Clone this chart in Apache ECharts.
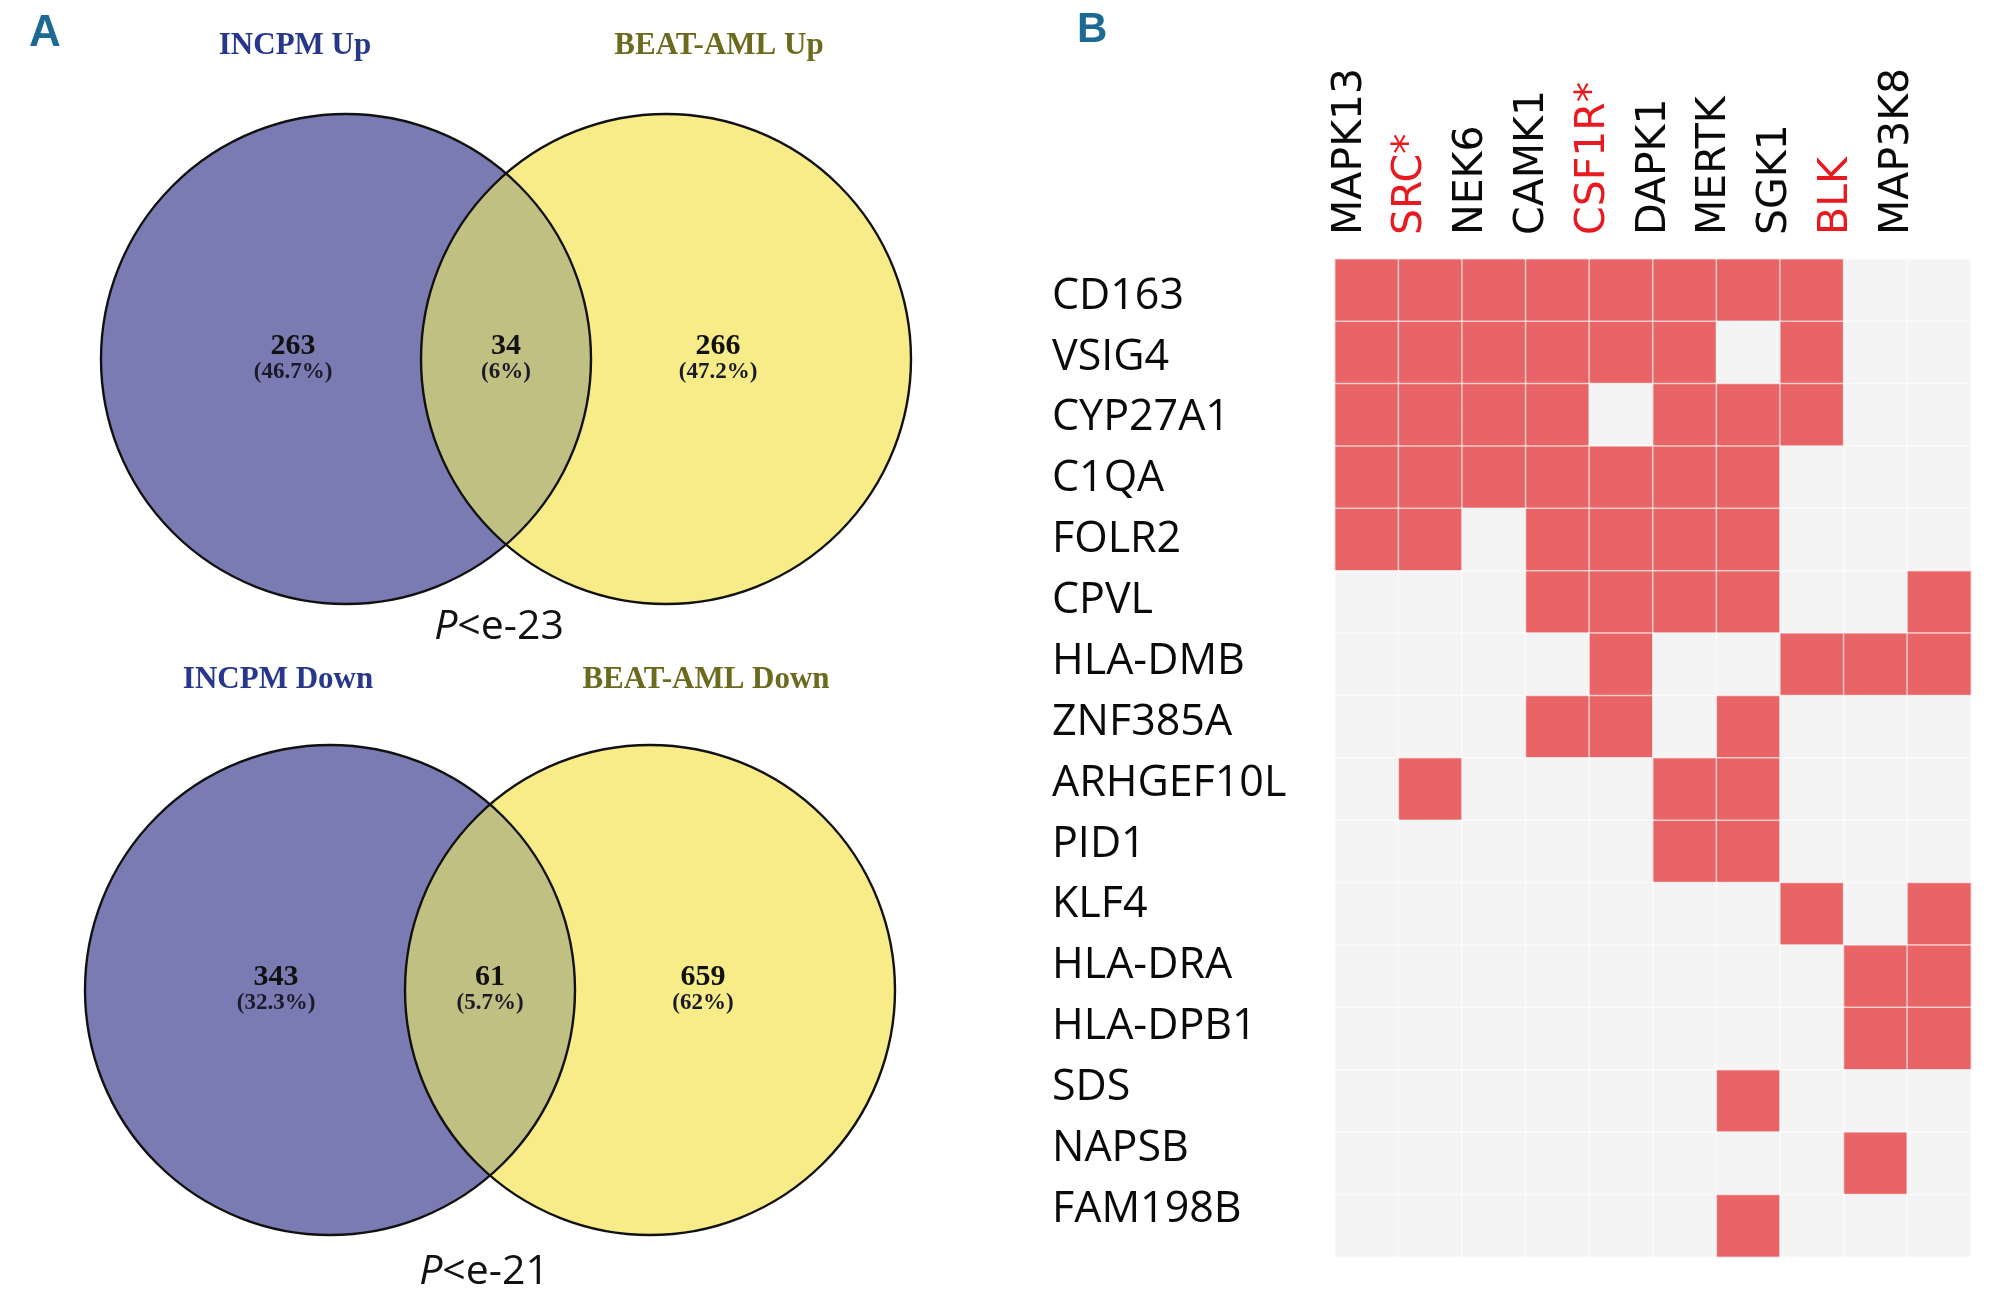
<!DOCTYPE html>
<html><head><meta charset="utf-8">
<script src="https://cdn.jsdelivr.net/npm/echarts@6/dist/echarts.min.js"></script>
<style>html,body{margin:0;padding:0;background:#fff}#c{width:2000px;height:1301px}</style>
</head><body><div id="c"></div>
<script>
// ---------- data ----------
const kinases = ['MAPK13','SRC*','NEK6','CAMK1','CSF1R*','DAPK1','MERTK','SGK1','BLK','MAP3K8'];
const highlightedKinases = ['SRC*','CSF1R*','BLK'];
const genes = ['CD163','VSIG4','CYP27A1','C1QA','FOLR2','CPVL','HLA-DMB','ZNF385A','ARHGEF10L','PID1','KLF4','HLA-DRA','HLA-DPB1','SDS','NAPSB','FAM198B'];
const hitsCD163     = [1,1,1,1,1,1,1,1,0,0];
const hitsVSIG4     = [1,1,1,1,1,1,0,1,0,0];
const hitsCYP27A1   = [1,1,1,1,0,1,1,1,0,0];
const hitsC1QA      = [1,1,1,1,1,1,1,0,0,0];
const hitsFOLR2     = [1,1,0,1,1,1,1,0,0,0];
const hitsCPVL      = [0,0,0,1,1,1,1,0,0,1];
const hitsHLADMB    = [0,0,0,0,1,0,0,1,1,1];
const hitsZNF385A   = [0,0,0,1,1,0,1,0,0,0];
const hitsARHGEF10L = [0,1,0,0,0,1,1,0,0,0];
const hitsPID1      = [0,0,0,0,0,1,1,0,0,0];
const hitsKLF4      = [0,0,0,0,0,0,0,1,0,1];
const hitsHLADRA    = [0,0,0,0,0,0,0,0,1,1];
const hitsHLADPB1   = [0,0,0,0,0,0,0,0,1,1];
const hitsSDS       = [0,0,0,0,0,0,1,0,0,0];
const hitsNAPSB     = [0,0,0,0,0,0,0,0,1,0];
const hitsFAM198B   = [0,0,0,0,0,0,1,0,0,0];
const hitRows = [hitsCD163,hitsVSIG4,hitsCYP27A1,hitsC1QA,hitsFOLR2,hitsCPVL,hitsHLADMB,hitsZNF385A,
                 hitsARHGEF10L,hitsPID1,hitsKLF4,hitsHLADRA,hitsHLADPB1,hitsSDS,hitsNAPSB,hitsFAM198B];

const vennUpTitles = ['INCPM Up','BEAT-AML Up'];
const vennUpCounts = [263,34,266];
const vennUpPercents = ['46.7%','6%','47.2%'];
const vennUpP = 'e-23';
const vennDownTitles = ['INCPM Down','BEAT-AML Down'];
const vennDownCounts = [343,61,659];
const vennDownPercents = ['32.3%','5.7%','62%'];
const vennDownP = 'e-21';

// ---------- layout (positions / styles only) ----------
const vennSets = [
  {titles: vennUpTitles, counts: vennUpCounts, pct: vennUpPercents, p: vennUpP},
  {titles: vennDownTitles, counts: vennDownCounts, pct: vennDownPercents, p: vennDownP}
];
const vennLayout = [
  {c1:346, c2:666, cy:359, r:245, labelX:[293,506,718], titleX:[295,719], titleY:46, pX:499, pY:627},
  {c1:330, c2:650, cy:990, r:245, labelX:[276,490,703], titleX:[278,706], titleY:680, pX:484, pY:1272}
];
const titleColors = ['#27388c','#6c6a1d'];
const leftFill = '#7b7bb4', rightFill = '#f7ec87', lensFill = '#c1c083';

const heatData = [];
hitRows.forEach((row, gi) => row.forEach((v, ki) => heatData.push([ki, gi, v])));

function renderVenn(params, api) {
  const L = vennLayout[params.dataIndex];
  const S = vennSets[params.dataIndex];
  const p1 = api.coord([L.c1, L.cy]);
  const p2 = api.coord([L.c2, L.cy]);
  const r = api.size([L.r, L.r])[0];
  const m = (p1[0] + p2[0]) / 2;
  const t0 = Math.acos((m - p1[0]) / r);
  const pts = [];
  const N = 80;
  for (let i = 0; i <= N; i++) { const t = -t0 + 2 * t0 * i / N; pts.push([p1[0] + r * Math.cos(t), p1[1] - r * Math.sin(t)]); }
  for (let i = 0; i <= N; i++) { const t = Math.PI - t0 + 2 * t0 * i / N; pts.push([p2[0] + r * Math.cos(t), p2[1] - r * Math.sin(t)]); }
  const children = [
    {type:'circle', shape:{cx:p1[0], cy:p1[1], r:r}, style:{fill:leftFill, stroke:null}},
    {type:'circle', shape:{cx:p2[0], cy:p2[1], r:r}, style:{fill:rightFill, stroke:null}},
    {type:'polygon', shape:{points:pts}, style:{fill:lensFill, stroke:null}},
    {type:'circle', shape:{cx:p1[0], cy:p1[1], r:r}, style:{fill:null, stroke:'#111', lineWidth:2.4}},
    {type:'circle', shape:{cx:p2[0], cy:p2[1], r:r}, style:{fill:null, stroke:'#111', lineWidth:2.4}}
  ];
  for (let i = 0; i < 3; i++) {
    const cpos = api.coord([L.labelX[i], L.cy - 13]);
    const ppos = api.coord([L.labelX[i], L.cy + 13]);
    children.push({type:'text', x:cpos[0], y:cpos[1], style:{text:String(S.counts[i]), fill:'#111',
      fontFamily:'Liberation Serif', fontWeight:'bold', fontSize:30, align:'center', verticalAlign:'middle'}});
    children.push({type:'text', x:ppos[0], y:ppos[1], style:{text:'(' + S.pct[i] + ')', fill:'#1a1a2a',
      fontFamily:'Liberation Serif', fontWeight:'bold', fontSize:23, align:'center', verticalAlign:'middle'}});
  }
  for (let i = 0; i < 2; i++) {
    const tpos = api.coord([L.titleX[i], L.titleY]);
    children.push({type:'text', x:tpos[0], y:tpos[1], style:{text:S.titles[i], fill:titleColors[i],
      fontFamily:'Liberation Serif', fontWeight:'bold', fontSize:31, align:'center', verticalAlign:'middle'}});
  }
  const ppos = api.coord([L.pX, L.pY]);
  children.push({type:'text', x:ppos[0], y:ppos[1], style:{text:'{i|P}{n|<' + S.p + '}', align:'center', verticalAlign:'middle',
    rich:{i:{fontFamily:'Open Sans', fontStyle:'italic', fontSize:41, fill:'#111'}, n:{fontFamily:'Open Sans', fontSize:41, fill:'#111'}}}});
  return {type:'group', children};
}

const chart = echarts.init(document.getElementById('c'), null, {renderer:'canvas'});
chart.setOption({
  backgroundColor:'#ffffff',
  animation:false,
  graphic:[
    {type:'text', left:29, top:12, style:{text:'A', fill:'#1b6a93', fontFamily:'Liberation Sans Narrow, Liberation Sans', fontWeight:'bold', fontSize:44}},
    {type:'text', left:1077, top:9, style:{text:'B', fill:'#1b6a93', fontFamily:'Liberation Sans Narrow, Liberation Sans', fontWeight:'bold', fontSize:42}}
  ],
  grid:[
    {left:0, top:0, width:2000, height:1301},
    {left:1335, top:259, width:636, height:998},
    {left:1319.6, top:259, width:608, height:998},
    {left:1335, top:266, width:636, height:974}
  ],
  xAxis:[
    {type:'value', gridIndex:0, min:0, max:2000, show:false},
    {type:'category', gridIndex:1, data:kinases, position:'top', axisLine:{show:false}, axisTick:{show:false}, axisLabel:{show:false}, splitLine:{show:false}},
    {type:'category', gridIndex:2, position:'top',
      data:kinases.map(k => ({value:k, textStyle:{color: highlightedKinases.includes(k) ? '#e8191f' : '#0a0a0a'}})),
      axisLine:{show:false}, axisTick:{show:false},
      axisLabel:{rotate:-90, margin:24, fontFamily:'DejaVu Sans', fontSize:41, interval:0}},
    {type:'category', gridIndex:3, data:kinases, show:false}
  ],
  yAxis:[
    {type:'value', gridIndex:0, min:0, max:1301, inverse:true, show:false},
    {type:'category', gridIndex:1, data:genes, inverse:true, axisLine:{show:false}, axisTick:{show:false}, axisLabel:{show:false}},
    {type:'category', gridIndex:2, data:genes, inverse:true, show:false},
    {type:'category', gridIndex:3, data:genes, inverse:true, axisLine:{show:false}, axisTick:{show:false},
      axisLabel:{margin:283, align:'left', fontFamily:'Open Sans', fontSize:43, color:'#0a0a0a', interval:0}}
  ],
  visualMap:{type:'piecewise', show:false, seriesIndex:1, dimension:2,
    pieces:[{value:0, color:'#f5f4f4'},{value:1, color:'#e96466'}]},
  series:[
    {type:'custom', xAxisIndex:0, yAxisIndex:0, clip:false, silent:true, renderItem:renderVenn, data:[[0,0],[1,0]]},
    {type:'heatmap', xAxisIndex:1, yAxisIndex:1, data:heatData, silent:true,
      itemStyle:{borderColor:'rgba(255,255,255,0.6)', borderWidth:1.5}, emphasis:{disabled:true}}
  ]
});
</script></body></html>
